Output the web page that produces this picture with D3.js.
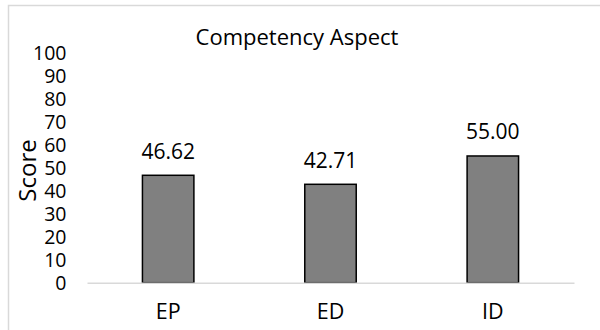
<!DOCTYPE html>
<html>
<head>
<meta charset="utf-8">
<script src="https://cdn.jsdelivr.net/npm/d3@7/dist/d3.min.js"></script>
<style>
  html, body { margin: 0; padding: 0; background: #fff; }
  svg { display: block; font-family: "Open Sans", "Noto Sans", sans-serif; }
</style>
</head>
<body>
<svg id="chart" width="600" height="330"></svg>
<script>
const categories = ["EP", "ED", "ID"];
const scores = [46.62, 42.71, 55.00];
const yTicks = [0, 10, 20, 30, 40, 50, 60, 70, 80, 90, 100];
const chartTitle = "Competency Aspect";
const yAxisTitle = "Score";

const svg = d3.select("#chart");

// chart border (only top & left edges visible in frame)
svg.append("rect")
  .attr("x", 8.5).attr("y", 5.5)
  .attr("width", 600).attr("height", 340)
  .attr("fill", "#fff")
  .attr("stroke", "#d9d9d9")
  .attr("stroke-width", 1.5);

const plot = { left: 87, right: 574, top: 52.3, bottom: 282.7 };

const x = d3.scaleBand()
  .domain(categories)
  .range([plot.left, plot.right])
  .paddingInner(0.683)
  .paddingOuter(0.683 / 2);

const y = d3.scaleLinear()
  .domain([0, 100])
  .range([plot.bottom, plot.top]);

// y tick labels
const yAxis = d3.axisLeft(y).tickValues(yTicks).tickSize(0).tickPadding(0);
const yg = svg.append("g")
  .attr("transform", `translate(${plot.left - 20.5},0)`)
  .call(yAxis);
yg.select(".domain").remove();
yg.selectAll("text")
  .attr("font-family", "\"Open Sans\", sans-serif")
  .attr("font-size", 19.5)
  .attr("fill", "#000")
  .attr("dy", "0.36em");

// bars
svg.append("g").selectAll("rect")
  .data(categories)
  .join("rect")
  .attr("x", d => x(d))
  .attr("y", (d, i) => y(scores[i]))
  .attr("width", x.bandwidth())
  .attr("height", (d, i) => y(0) - y(scores[i]))
  .attr("fill", "#808080")
  .attr("stroke", "#000")
  .attr("stroke-width", 1.5);

// baseline (category axis)
const xAxis = d3.axisBottom(x).tickSize(0).tickPadding(0);
const xg = svg.append("g")
  .attr("transform", `translate(0,${plot.bottom})`)
  .call(xAxis);
xg.select(".domain")
  .attr("stroke", "#d9d9d9")
  .attr("stroke-width", 1.5);
xg.selectAll("text")
  .attr("font-family", "\"Open Sans\", sans-serif")
  .attr("font-size", 21.5)
  .attr("fill", "#000")
  .attr("dy", "1.70em");

// value labels
svg.append("g").selectAll("text")
  .data(categories)
  .join("text")
  .attr("x", d => x(d) + x.bandwidth() / 2)
  .attr("y", (d, i) => y(scores[i]) - 16.5)
  .attr("text-anchor", "middle")
  .attr("font-size", 21)
  .attr("fill", "#000")
  .text((d, i) => scores[i].toFixed(2));

// title
svg.append("text")
  .attr("x", 297)
  .attr("y", 45)
  .attr("text-anchor", "middle")
  .attr("font-size", 22)
  .attr("fill", "#000")
  .text(chartTitle);

// y axis title
svg.append("text")
  .attr("transform", `translate(36,${(plot.top + plot.bottom) / 2 + 3}) rotate(-90)`)
  .attr("text-anchor", "middle")
  .attr("font-size", 24)
  .attr("fill", "#000")
  .text(yAxisTitle);
</script>
</body>
</html>
